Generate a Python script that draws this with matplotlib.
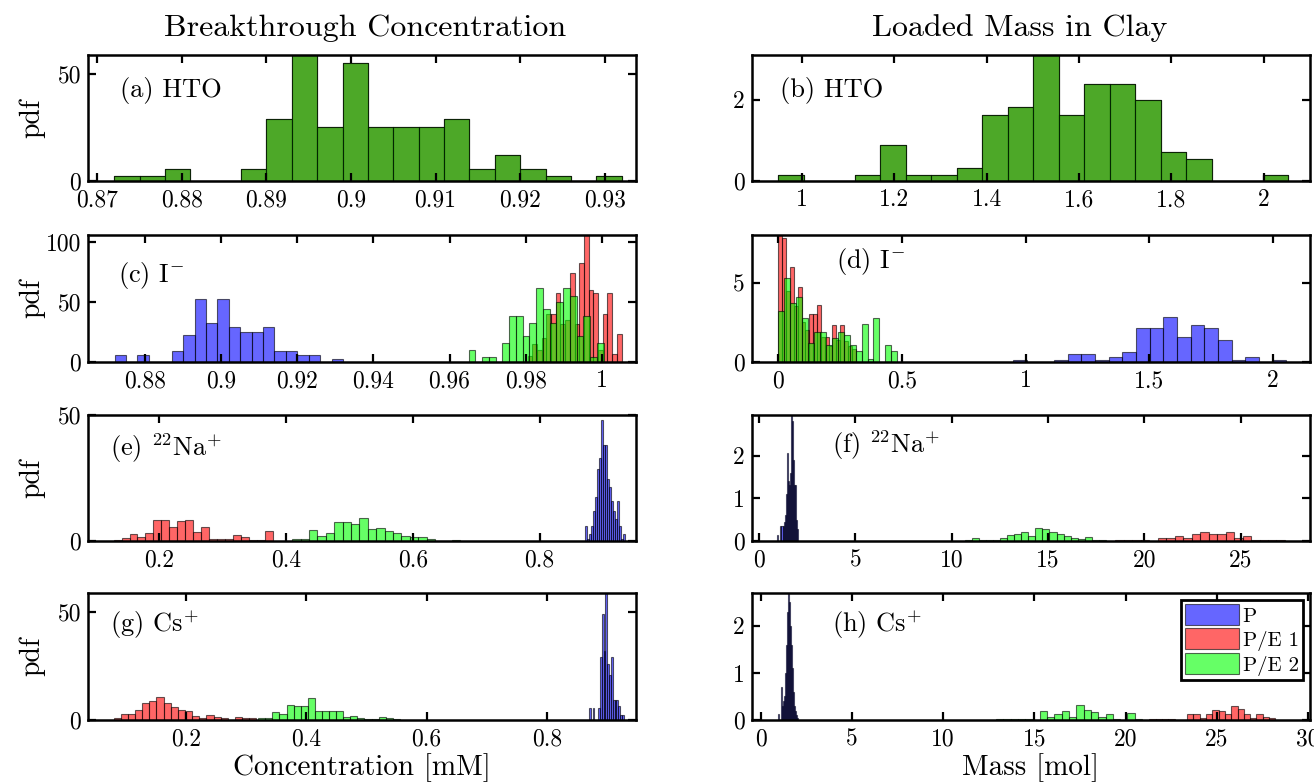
import numpy as np
import matplotlib
matplotlib.use('Agg')
import matplotlib.pyplot as plt

plt.rcParams['font.family'] = 'serif'
plt.rcParams['font.serif'] = ['cmr10', 'DejaVu Serif']
plt.rcParams['mathtext.fontset'] = 'cm'
plt.rcParams['axes.formatter.use_mathtext'] = True
plt.rcParams['axes.unicode_minus'] = False

# ---- data: pdf heights per bin, 20 bins between lo and hi ----
# HTO is the same for all three cases
hto_conc_range = (0.872, 0.932)
hto_conc = [2.5, 2.5, 5.8, 0, 0, 5.8, 28.9, 59, 25.5, 55.3,
            25.5, 25.5, 25.5, 28.9, 5.8, 12.3, 5.8, 2.5, 0, 2.5]
hto_mass_range = (0.9485, 2.0527)
hto_mass = [0.15, 0, 0, 0.15, 0.88, 0.15, 0.15, 0.33, 1.63, 1.81,
            3.1, 1.63, 2.375, 2.375, 2.0, 0.71, 0.53, 0, 0, 0.15]

# I-
i_conc_p_range = (0.872, 0.932)
i_conc_p = [5.9, 0, 5.9, 0, 0, 9.3, 22.6, 52.3, 32.2, 52.3,
            29.4, 25.4, 25.4, 29.4, 9.3, 9.3, 5.9, 5.9, 0, 2.5]
i_conc_e1_range = (0.9805, 1.0052)
i_conc_e1 = [5, 15, 10, 20, 40, 40, 57.2, 32, 35, 73.9,
             31.6, 82.5, 106, 60, 57.2, 10, 40, 57.2, 7, 23.6]
i_conc_e2_range = (0.965, 1.0005)
i_conc_e2 = [10.1, 0, 4.0, 4.0, 0, 15.8, 38.5, 38.5, 21.3, 32.8,
             61.5, 44.3, 32.8, 50, 61.5, 55.2, 21.3, 38.5, 4.0, 15.5]
i_mass_p_range = (0.9485, 2.0527)
i_mass_p = [0.1, 0, 0, 0.1, 0.49, 0.49, 0.1, 0.32, 0.66, 2.13,
            2.13, 2.83, 1.55, 2.3, 2.13, 1.38, 0.1, 0.32, 0, 0.1]
i_mass_e1_range = (0.0, 0.312)
i_mass_e1 = [8.0, 7.8, 4.5, 6.0, 3.5, 4.7, 2.5, 2.0, 3.0, 3.0,
             3.6, 1.6, 1.6, 1.0, 2.3, 1.4, 2.3, 1.3, 1.0, 0.8]
i_mass_e2_range = (0.0, 0.48)
i_mass_e2 = [3.2, 5.3, 3.7, 4.1, 2.8, 1.2, 1.9, 1.9, 1.1, 1.5,
             1.9, 1.7, 1.1, 0.7, 2.4, 0.2, 2.8, 0, 1.1, 0.7]

# 22Na+
na_conc_p_range = (0.872, 0.934)
na_conc_p = [6.0, 0.7, 2.7, 6.0, 12, 17.4, 28.6, 32.8, 47.9, 38.2,
             38.2, 24.8, 21.4, 15.7, 12, 8.7, 15.7, 6.0, 0.7, 2.7]
na_conc_e1_range = (0.1284, 0.3792)
na_conc_e1 = [0.5, 1.0, 2.6, 1.6, 3.3, 8.2, 8.2, 5.7, 7.8, 8.2,
              3.7, 5.7, 0.8, 0.8, 0.8, 2.5, 1.6, 0.3, 0.3, 4.1]
na_conc_e2_range = (0.41, 0.675)
na_conc_e2 = [0.8, 0.8, 4.4, 2.0, 3.0, 7.6, 7.6, 6.8, 9.0, 4.6,
              5.3, 4.0, 3.0, 1.9, 1.4, 1.4, 0.8, 0, 0, 0.3]
na_mass_p_range = (0.9485, 2.0527)
na_mass_p = [0.15, 0, 0, 0.35, 0.35, 0.35, 0.45, 0.6, 1.1, 2.05,
             1.4, 1.3, 1.6, 2.95, 2.8, 1.9, 1.3, 1.3, 0.5, 0.27]
na_mass_e1_range = (18.5, 27.3)
na_mass_e1 = [0.03, 0.02, 0.03, 0.02, 0, 0.06, 0.06, 0.12, 0.06, 0.16,
              0.2, 0.16, 0.16, 0.2, 0.06, 0.11, 0.02, 0.02, 0.02, 0.02]
na_mass_e2_range = (10.7, 18.0)
na_mass_e2 = [0.02, 0.06, 0.02, 0.02, 0.03, 0.06, 0.14, 0.16, 0.2, 0.11,
              0.3, 0.28, 0.21, 0.16, 0.11, 0.06, 0.05, 0.1, 0.02, 0.02]

# Cs+
cs_conc_p_range = (0.8698, 0.9307)
cs_conc_p = [5.6, 0, 5.6, 0, 0, 5.6, 28.9, 48.9, 32, 58.7,
             25.7, 21, 28.9, 9.2, 9.2, 9.2, 6.3, 2.4, 2.4, 0]
cs_conc_e1_range = (0.0795, 0.3169)
cs_conc_e1 = [1.0, 2.7, 2.7, 4.8, 7.9, 9.0, 10.6, 7.9, 5.9, 4.8,
              4.3, 1.9, 1.0, 2.4, 1.6, 1.0, 0, 1.6, 1.0, 1.0]
cs_conc_e2_range = (0.32, 0.5555)
cs_conc_e2 = [1.0, 1.0, 3.5, 3.0, 7.0, 6.3, 6.3, 10.0, 4.3, 4.3,
              4.3, 4.3, 1.6, 1.9, 1.0, 0.6, 0.6, 1.3, 1.0, 0.6]
cs_mass_p_range = (0.9485, 2.0527)
cs_mass_p = [0.12, 0, 0, 0.7, 0.3, 0.4, 0.5, 1.0, 1.6, 2.3,
             2.7, 2.5, 2.0, 1.6, 1.1, 0.6, 0.3, 0.2, 0.1, 0.05]
cs_mass_e1_range = (21.3, 28.2)
cs_mass_e1 = [0.03, 0.03, 0.03, 0.03, 0, 0, 0.12, 0.12, 0.05, 0.12,
              0.22, 0.2, 0.12, 0.29, 0.24, 0.12, 0.05, 0.12, 0.07, 0.05]
cs_mass_e2_range = (12.9, 20.9)
cs_mass_e2 = [0.015, 0.03, 0.015, 0.015, 0.03, 0, 0.2, 0.07, 0.12, 0.2,
              0.07, 0.31, 0.22, 0.18, 0.07, 0.12, 0.015, 0, 0.14, 0.015]

labels = ['P', 'P/E 1', 'P/E 2']
colors = [(0, 0, 1), (1, 0, 0), (0, 1, 0)]


def draw(ax, rng, h, color):
    edges = np.linspace(rng[0], rng[1], len(h) + 1)
    centers = (edges[:-1] + edges[1:]) / 2
    n, b, patches = ax.hist(centers, bins=edges, weights=h, color=color,
                            alpha=0.6, edgecolor='k', linewidth=0.8)
    return patches[0]


def style(ax, xlim, ylim, xticks, yticks, note, nx, ny):
    ax.set_xlim(xlim)
    ax.set_ylim(ylim)
    ax.set_xticks(xticks)
    ax.set_yticks(yticks)
    ax.xaxis.set_major_formatter(plt.FuncFormatter(lambda v, p: '%g' % round(v, 6)))
    ax.yaxis.set_major_formatter(plt.FuncFormatter(lambda v, p: '%g' % round(v, 6)))
    ax.tick_params(direction='in', top=True, right=True, length=6, width=1.6,
                   labelsize=17)
    ax.tick_params(axis='x', pad=6)
    ax.tick_params(axis='y', pad=5)
    for s in ax.spines.values():
        s.set_linewidth(1.8)
    ax.text(nx, ny, note, transform=ax.transAxes, fontsize=19, va='center', ha='left')


fig = plt.figure(figsize=(13.14, 7.84), dpi=100)
W, H = 1314.0, 784.0
rows = [(55, 181), (235, 362), (415, 541), (593, 720)]
cols = [(88, 636), (752, 1310)]
axes = []
for (t, b) in rows:
    r = []
    for (l, rr) in cols:
        r.append(fig.add_axes([l / W, 1 - b / H, (rr - l) / W, (b - t) / H]))
    axes.append(r)

# (a) / (b) HTO
for c in colors:
    draw(axes[0][0], hto_conc_range, hto_conc, c)
    draw(axes[0][1], hto_mass_range, hto_mass, c)
style(axes[0][0], (0.8689, 0.9337), (0, 59), np.arange(0.87, 0.9301, 0.01), [0, 50],
      '(a) HTO', 0.058, 0.72)
style(axes[0][1], (0.892, 2.1), (0, 3.1), np.arange(1.0, 2.01, 0.2), [0, 2],
      '(b) HTO', 0.05, 0.72)

# (c) / (d) I-
draw(axes[1][0], i_conc_p_range, i_conc_p, colors[0])
draw(axes[1][0], i_conc_e1_range, i_conc_e1, colors[1])
draw(axes[1][0], i_conc_e2_range, i_conc_e2, colors[2])
draw(axes[1][1], i_mass_p_range, i_mass_p, colors[0])
draw(axes[1][1], i_mass_e1_range, i_mass_e1, colors[1])
draw(axes[1][1], i_mass_e2_range, i_mass_e2, colors[2])
style(axes[1][0], (0.865, 1.009), (0, 106), np.arange(0.88, 1.001, 0.02), [0, 50, 100],
      r'(c) I$^{-}$', 0.055, 0.685)
style(axes[1][1], (-0.107, 2.149), (0, 8), [0, 0.5, 1, 1.5, 2], [0, 5],
      r'(d) I$^{-}$', 0.15, 0.79)

# (e) / (f) 22Na+
draw(axes[2][0], na_conc_p_range, na_conc_p, colors[0])
draw(axes[2][0], na_conc_e1_range, na_conc_e1, colors[1])
draw(axes[2][0], na_conc_e2_range, na_conc_e2, colors[2])
draw(axes[2][1], na_mass_p_range, na_mass_p, colors[0])
draw(axes[2][1], na_mass_e1_range, na_mass_e1, colors[1])
draw(axes[2][1], na_mass_e2_range, na_mass_e2, colors[2])
style(axes[2][0], (0.088, 0.952), (0, 50), [0.2, 0.4, 0.6, 0.8], [0, 50],
      r'(e) $^{22}$Na$^{+}$', 0.04, 0.74)
style(axes[2][1], (-0.36, 28.6), (0, 2.95), [0, 5, 10, 15, 20, 25], [0, 1, 2],
      r'(f) $^{22}$Na$^{+}$', 0.143, 0.76)

# (g) / (h) Cs+
draw(axes[3][0], cs_conc_p_range, cs_conc_p, colors[0])
draw(axes[3][0], cs_conc_e1_range, cs_conc_e1, colors[1])
draw(axes[3][0], cs_conc_e2_range, cs_conc_e2, colors[2])
handles = [draw(axes[3][1], cs_mass_p_range, cs_mass_p, colors[0]),
           draw(axes[3][1], cs_mass_e1_range, cs_mass_e1, colors[1]),
           draw(axes[3][1], cs_mass_e2_range, cs_mass_e2, colors[2])]
style(axes[3][0], (0.037, 0.948), (0, 58.7), [0.2, 0.4, 0.6, 0.8], [0, 50],
      r'(g) Cs$^{+}$', 0.04, 0.75)
style(axes[3][1], (-0.47, 30.1), (0, 2.7), [0, 5, 10, 15, 20, 25, 30], [0, 1, 2],
      r'(h) Cs$^{+}$', 0.143, 0.75)

leg = axes[3][1].legend(handles, labels, loc='upper right', fontsize=15,
                        fancybox=False, edgecolor='k', framealpha=1,
                        handlelength=2.6, handleheight=1.15, handletextpad=0.15,
                        labelspacing=0.12, borderpad=0.2, borderaxespad=0.35)
leg.get_frame().set_linewidth(2)

for r in axes:
    r[0].set_ylabel('pdf', fontsize=20)
    r[0].yaxis.set_label_coords(-0.078, 0.5)

axes[3][0].set_xlabel('Concentration [mM]', fontsize=21, labelpad=2)
axes[3][1].set_xlabel('Mass [mol]', fontsize=21, labelpad=2)

fig.text(365 / W, 1 - 28 / H, 'Breakthrough Concentration', fontsize=23, ha='center', va='center')
fig.text(1020 / W, 1 - 28 / H, 'Loaded Mass in Clay', fontsize=23, ha='center', va='center')

fig.savefig('out.png', dpi=100)
